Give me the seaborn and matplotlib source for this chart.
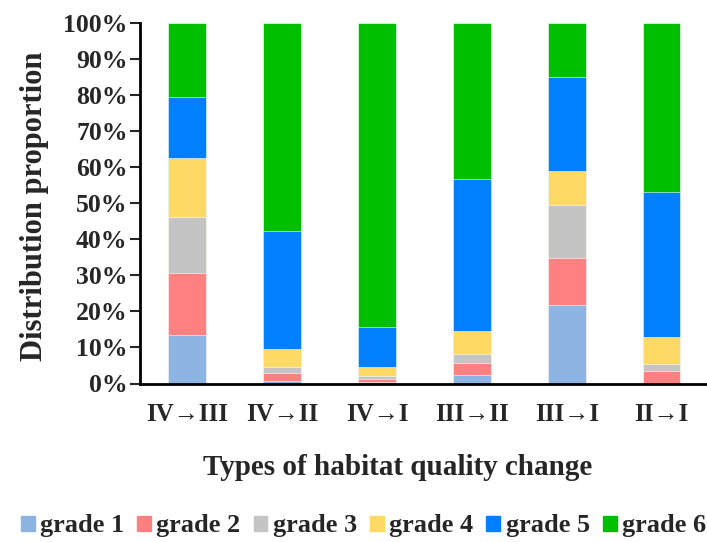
import numpy as np
import pandas as pd
import matplotlib
matplotlib.use("Agg")
import matplotlib.pyplot as plt
import matplotlib.patches as mpatches
import seaborn as sns

# Data (percent of each change type)
types = ["IV→III", "IV→II", "IV→I", "III→II", "III→I", "II→I"]
grades = ["grade 1", "grade 2", "grade 3", "grade 4", "grade 5", "grade 6"]
grade1 = [13.4, 0.7, 0.3, 2.4, 21.8, 0.0]
grade2 = [17.3, 2.1, 0.9, 3.2, 13.1, 3.6]
grade3 = [15.5, 1.7, 0.9, 2.5, 14.7, 1.8]
grade4 = [16.2, 5.0, 2.6, 6.5, 9.3, 7.5]
grade5 = [16.9, 32.8, 11.0, 42.0, 26.0, 40.1]
grade6 = [20.7, 57.7, 84.3, 43.4, 15.1, 47.0]
colors = ["#8DB4E2", "#FF8080", "#C4C4C4", "#FFD966", "#0080FF", "#00BE00"]

df = pd.DataFrame({"Type": types, "grade 1": grade1, "grade 2": grade2,
                   "grade 3": grade3, "grade 4": grade4, "grade 5": grade5,
                   "grade 6": grade6})
# normalise so every bar reaches 100%
vals = df[grades].values
vals = vals / vals.sum(axis=1, keepdims=True) * 100
cum = np.cumsum(vals, axis=1)

sns.set_theme(style="white")
plt.rcParams["font.family"] = ["Liberation Serif", "DejaVu Serif"]
plt.rcParams["font.weight"] = "bold"

fig = plt.figure(figsize=(7.07, 5.42), dpi=100)
ax = fig.add_axes([140 / 707, 1 - 383.5 / 542, 1 - 140 / 707, (383.5 - 22.7) / 542])

# stacked bars: draw cumulative totals from top grade down
for k in range(len(grades) - 1, -1, -1):
    sns.barplot(x=types, y=cum[:, k], color=colors[k], width=0.4,
                saturation=1, edgecolor="white", linewidth=0.4, ax=ax)

ax.set_ylim(0, 100)
ax.set_xlim(-0.5, 5.48)
ax.set_yticks(np.arange(0, 101, 10))
ax.set_yticklabels([f"{v}%" for v in range(0, 101, 10)], fontsize=18.5, fontweight="bold")
ax.set_xticks(range(len(types)))
ax.set_xticklabels(types, fontsize=18, fontweight="bold")
ax.tick_params(axis="y", direction="out", length=7, width=1.5, left=True, pad=2)
ax.tick_params(axis="x", length=0, pad=14)
for s in ["top", "right"]:
    ax.spines[s].set_visible(False)
for s in ["left", "bottom"]:
    ax.spines[s].set_color("black")
    ax.spines[s].set_linewidth(2)

ax.set_xlabel("Types of habitat quality change", fontsize=21, fontweight="bold")
ax.xaxis.set_label_coords((398 - 140) / 567, -0.195)
ax.set_ylabel("Distribution proportion", fontsize=22, fontweight="bold")
ax.yaxis.set_label_coords(-(140 - 49) / 567, 0.49)

handles = [mpatches.Patch(color=c, label=g) for c, g in zip(colors, grades)]
fig.legend(handles=handles, loc="lower center", bbox_to_anchor=(0.514, -0.035), ncol=6,
           frameon=False, handlelength=0.53, handleheight=0.5,
           handletextpad=0.2, columnspacing=0.5, prop={"weight": "bold", "size": 18.9})

fig.savefig("out.png", dpi=100)
